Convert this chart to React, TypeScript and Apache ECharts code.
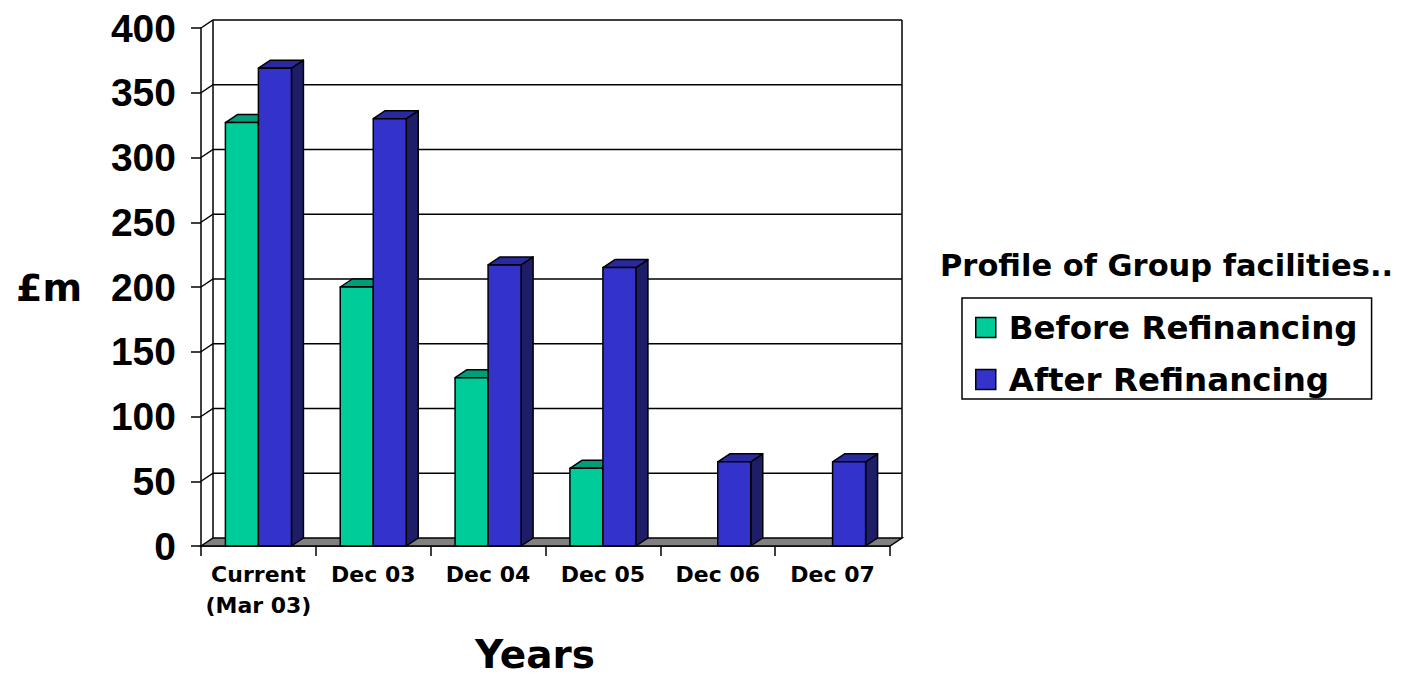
import React, { useEffect, useRef } from "react";
import * as echarts from "echarts";

// Categories, series values and tick values
const categories = ["Current\n(Mar 03)", "Dec 03", "Dec 04", "Dec 05", "Dec 06", "Dec 07"];
const beforeRefinancing: (number | null)[] = [327, 200, 130, 60, null, null];
const afterRefinancing: (number | null)[] = [369, 330, 217, 215, 65, 65];
const yTicks = [0, 50, 100, 150, 200, 250, 300, 350, 400];

const seriesNames = ["Before Refinancing", "After Refinancing"];

// 3-D look: depth offset of the box shapes and walls
const DX = 12;
const DY = 8;
const BAR_RATIO = 0.2875;
const LINE = 1.5;

const palette = [
  { front: "#00CC99", top: "#009E78", side: "#007A5C" },
  { front: "#3333CC", top: "#2A2AA0", side: "#1D1D68" },
];

const WIDE_FONT = "'DejaVu Sans', sans-serif";
const TICK_FONT = "'Liberation Sans', Arial, sans-serif";

function barRenderer(slot: number) {
  const c = palette[slot];
  return (params: any, api: any) => {
    const idx = api.value(0);
    const v = api.value(1);
    const band = api.size([1, 0])[0];
    const w = band * BAR_RATIO;
    const base = api.coord([idx, 0]);
    const topPt = api.coord([idx, v]);
    const x0 = base[0] - w + slot * w;
    const x1 = x0 + w;
    const yb = base[1];
    const yt = topPt[1];
    const stroke = { stroke: "#000", lineWidth: LINE, lineJoin: "round" };
    return {
      type: "group",
      children: [
        {
          type: "polygon",
          shape: { points: [[x1, yt], [x1 + DX, yt - DY], [x1 + DX, yb - DY], [x1, yb]] },
          style: { fill: c.side, ...stroke },
        },
        {
          type: "polygon",
          shape: { points: [[x0, yt], [x0 + DX, yt - DY], [x1 + DX, yt - DY], [x1, yt]] },
          style: { fill: c.top, ...stroke },
        },
        {
          type: "rect",
          shape: { x: x0, y: yt, width: x1 - x0, height: yb - yt },
          style: { fill: c.front, ...stroke },
        },
      ],
    };
  };
}

// Back wall, side wall gridlines and floor, drawn from the value ticks
function wallRenderer(params: any, api: any) {
  const cs = params.coordSys;
  const x0 = cs.x;
  const x1 = cs.x + cs.width;
  const v = api.value(1);
  const y = api.coord([0, v])[1];
  const stroke = { stroke: "#000", lineWidth: LINE, fill: null };
  if (v === 0) {
    const topY = cs.y - DY;
    return {
      type: "group",
      children: [
        {
          type: "line",
          shape: { x1: x0 + DX, y1: topY, x2: x0 + DX, y2: y - DY },
          style: { stroke: "#000", lineWidth: LINE },
        },
        {
          type: "line",
          shape: { x1: x1 + DX, y1: topY, x2: x1 + DX, y2: y - DY },
          style: { stroke: "#000", lineWidth: LINE },
        },
        {
          type: "polygon",
          shape: { points: [[x0, y], [x0 + DX, y - DY], [x1 + DX, y - DY], [x1, y]] },
          style: { fill: "#808080", stroke: "#000", lineWidth: LINE },
        },
      ],
    };
  }
  return {
    type: "polyline",
    shape: { points: [[x0, y], [x0 + DX, y - DY], [x1 + DX, y - DY]] },
    style: stroke,
  };
}

export default function App() {
  const ref = useRef<HTMLDivElement>(null);

  useEffect(() => {
    if (!ref.current) return;
    const chart = echarts.init(ref.current, undefined, { renderer: "svg" });

    const toData = (arr: (number | null)[]) =>
      arr.map((v, i) => (v == null ? null : [i, v])).filter((d) => d !== null);

    chart.setOption({
      animation: false,
      backgroundColor: "#fff",
      title: {
        text: "Profile of Group facilities..",
        left: 940,
        top: 250,
        padding: 0,
        textStyle: { fontFamily: WIDE_FONT, fontWeight: "bold", fontSize: 30.5, color: "#000" },
      },
      legend: {
        data: seriesNames,
        orient: "vertical",
        left: 962,
        top: 298,
        padding: [13, 14, 3, 13],
        itemGap: 19,
        itemWidth: 20,
        itemHeight: 20,
        borderColor: "#000",
        borderWidth: 1.5,
        icon: "rect",
        itemStyle: { borderColor: "#000", borderWidth: 1.5 },
        textStyle: {
          fontFamily: WIDE_FONT,
          fontWeight: "bold",
          fontSize: 32.5,
          lineHeight: 32,
          color: "#000",
          padding: [0, 0, 0, 8],
        },
      },
      grid: { left: 201, right: 513, top: 28, bottom: 132 },
      xAxis: {
        type: "category",
        data: categories,
        boundaryGap: true,
        axisLine: { show: true, lineStyle: { color: "#000", width: LINE } },
        axisTick: { show: true, length: 10, lineStyle: { color: "#000", width: LINE } },
        axisLabel: {
          margin: 13,
          interval: 0,
          color: "#000",
          fontFamily: WIDE_FONT,
          fontWeight: "bold",
          fontSize: 22,
          lineHeight: 31,
        },
        splitLine: { show: false },
      },
      yAxis: {
        type: "value",
        min: 0,
        max: 400,
        interval: 50,
        axisLine: { show: true, lineStyle: { color: "#000", width: LINE } },
        axisTick: { show: true, length: 10, lineStyle: { color: "#000", width: LINE } },
        axisLabel: {
          margin: 25,
          color: "#000",
          fontFamily: TICK_FONT,
          fontWeight: "bold",
          fontSize: 39,
        },
        splitLine: { show: false },
      },
      graphic: [
        {
          type: "text",
          left: 16,
          top: 269,
          style: {
            text: "£m",
            fontFamily: WIDE_FONT,
            fontWeight: "bold",
            fontSize: 38,
            fill: "#000",
          },
        },
        {
          type: "text",
          x: 535,
          y: 654,
          style: {
            text: "Years",
            fontFamily: WIDE_FONT,
            fontWeight: "bold",
            fontSize: 39,
            lineHeight: 34,
            fill: "#000",
            align: "center",
            verticalAlign: "middle",
          },
        },
      ],
      series: [
        {
          name: "walls",
          type: "custom",
          data: yTicks.map((v) => [0, v]),
          encode: { x: 0, y: 1 },
          renderItem: wallRenderer,
          clip: false,
          silent: true,
          z: 1,
        },
        {
          name: seriesNames[0],
          type: "custom",
          data: toData(beforeRefinancing),
          encode: { x: 0, y: 1 },
          renderItem: barRenderer(0),
          itemStyle: { color: palette[0].front, borderColor: "#000", borderWidth: LINE },
          clip: false,
          z: 3,
        },
        {
          name: seriesNames[1],
          type: "custom",
          data: toData(afterRefinancing),
          encode: { x: 0, y: 1 },
          renderItem: barRenderer(1),
          itemStyle: { color: palette[1].front, borderColor: "#000", borderWidth: LINE },
          clip: false,
          z: 3,
        },
      ],
    });

    return () => chart.dispose();
  }, []);

  return (
    <div
      ref={ref}
      style={{ position: "fixed", left: 0, top: 0, width: 1403, height: 678, background: "#fff" }}
    />
  );
}
